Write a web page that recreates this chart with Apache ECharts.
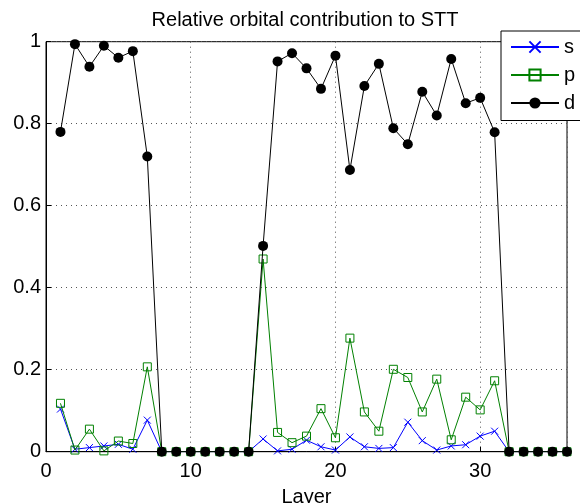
<!DOCTYPE html>
<html><head><meta charset="utf-8">
<script src="https://cdn.jsdelivr.net/npm/echarts@6/dist/echarts.min.js"></script>
<style>html,body{margin:0;padding:0;background:#fff}#c{width:580px;height:503px}</style>
</head><body><div id="c"></div>
<script>
const layers = [1,2,3,4,5,6,7,8,9,10,11,12,13,14,15,16,17,18,19,20,21,22,23,24,25,26,27,28,29,30,31,32,33,34,35,36];
const sVals = [0.104,0.006,0.010,0.014,0.018,0.006,0.077,0,0,0,0,0,0,0,0.031,0.002,0.006,0.028,0.012,0.004,0.036,0.012,0.008,0.010,0.072,0.027,0.004,0.014,0.017,0.038,0.050,0,0,0,0,0];
const pVals = [0.118,0.004,0.055,0.002,0.026,0.020,0.207,0,0,0,0,0,0,0,0.470,0.047,0.022,0.038,0.105,0.034,0.277,0.097,0.050,0.201,0.181,0.097,0.177,0.029,0.133,0.102,0.173,0,0,0,0,0];
const dVals = [0.780,0.994,0.939,0.990,0.961,0.977,0.720,0,0,0,0,0,0,0,0.502,0.952,0.972,0.935,0.885,0.966,0.687,0.892,0.946,0.789,0.750,0.878,0.820,0.958,0.850,0.863,0.779,0,0,0,0,0];
const xTicks = [0,10,20,30];
const yTicks = [0,0.2,0.4,0.6,0.8,1];

const pairs = v => layers.map((l,i)=>[l,v[i]]);
const FONT = 'Liberation Sans';
const chart = echarts.init(document.getElementById('c'));
chart.setOption({
  animation:false,
  backgroundColor:'#fff',
  textStyle:{fontFamily:FONT},
  title:{text:'Relative orbital contribution to STT',left:300,textAlign:'center',top:5,
    textStyle:{fontFamily:FONT,fontSize:20,fontWeight:'normal',color:'#000'}},
  grid:{left:46,right:13,top:41.7,bottom:51.3,outerBoundsMode:'none',containLabel:false,
    show:true,borderColor:'#000',borderWidth:1,backgroundColor:'transparent'},
  legend:{
    orient:'vertical',left:501,top:31,padding:[6,40,7.5,9],itemGap:8,itemWidth:48,itemHeight:14,
    backgroundColor:'#fff',borderColor:'#000',borderWidth:1,z:10,
    textStyle:{fontFamily:FONT,fontSize:20,color:'#000'},
    data:['s','p','d']
  },
  xAxis:{type:'value',min:0,max:36,interval:10,
    name:'Layer',nameLocation:'middle',nameGap:36,
    nameTextStyle:{fontFamily:FONT,fontSize:20,color:'#000'},
    axisLine:{show:true,onZero:false,lineStyle:{color:'#000',width:1}},
    axisTick:{show:true,inside:true,length:5,lineStyle:{color:'#000'}},
    axisLabel:{fontFamily:FONT,fontSize:20,color:'#000',margin:10,
      formatter:v=>xTicks.includes(v)?String(v):''},
    splitLine:{show:true,lineStyle:{type:[1,4],color:'#555',width:1}}
  },
  yAxis:{type:'value',min:0,max:1,interval:0.2,
    axisLine:{show:true,lineStyle:{color:'#000',width:1}},
    axisTick:{show:true,inside:true,length:5,lineStyle:{color:'#000'}},
    axisLabel:{fontFamily:FONT,fontSize:20,color:'#000',margin:5,
      formatter:v=>{const t=yTicks.find(y=>Math.abs(y-v)<1e-6);return t===undefined?'':String(t);}},
    splitLine:{show:true,lineStyle:{type:[1,4],color:'#555',width:1}}
  },
  series:[
    {name:'s',type:'line',data:pairs(sVals),symbol:'path://M0,0L10,10M10,0L0,10',symbolSize:7,
      lineStyle:{color:'#0000ff',width:1},
      itemStyle:{color:'#0000ff',borderColor:'#0000ff',borderWidth:1},z:2},
    {name:'p',type:'line',data:pairs(pVals),symbol:'rect',symbolSize:8,
      lineStyle:{color:'#008000',width:1},
      itemStyle:{color:'rgba(0,0,0,0)',borderColor:'#008000',borderWidth:1},z:3},
    {name:'d',type:'line',data:pairs(dVals),symbol:'circle',symbolSize:10,
      lineStyle:{color:'#000',width:1},
      itemStyle:{color:'#000',borderColor:'#000',borderWidth:0},z:4}
  ]
});
</script></body></html>
